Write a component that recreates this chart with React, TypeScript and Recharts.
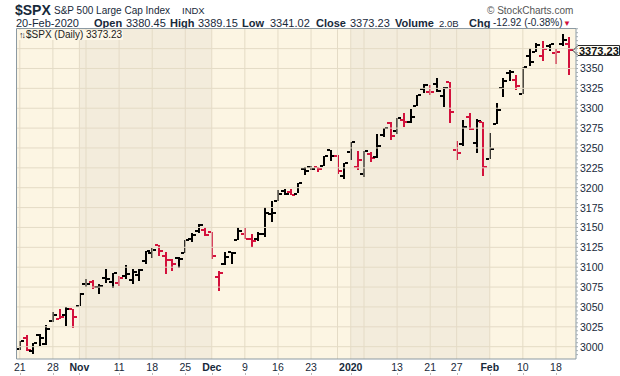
import React from "react";
import { ComposedChart, Bar, XAxis, YAxis, ReferenceArea, ReferenceLine } from "recharts";

const DATES = [
  "Oct 21", "Oct 22", "Oct 23", "Oct 24", "Oct 25", "Oct 28", "Oct 29", "Oct 30", "Oct 31",
  "Nov 1", "Nov 4", "Nov 5", "Nov 6", "Nov 7", "Nov 8", "Nov 11", "Nov 12", "Nov 13", "Nov 14", "Nov 15",
  "Nov 18", "Nov 19", "Nov 20", "Nov 21", "Nov 22", "Nov 25", "Nov 26", "Nov 27", "Nov 29",
  "Dec 2", "Dec 3", "Dec 4", "Dec 5", "Dec 6", "Dec 9", "Dec 10", "Dec 11", "Dec 12", "Dec 13",
  "Dec 16", "Dec 17", "Dec 18", "Dec 19", "Dec 20", "Dec 23", "Dec 24", "Dec 26", "Dec 27", "Dec 30", "Dec 31",
  "Jan 2", "Jan 3", "Jan 6", "Jan 7", "Jan 8", "Jan 9", "Jan 10", "Jan 13", "Jan 14", "Jan 15", "Jan 16", "Jan 17",
  "Jan 21", "Jan 22", "Jan 23", "Jan 24", "Jan 27", "Jan 28", "Jan 29", "Jan 30", "Jan 31",
  "Feb 3", "Feb 4", "Feb 5", "Feb 6", "Feb 7", "Feb 10", "Feb 11", "Feb 12", "Feb 13", "Feb 14",
  "Feb 18", "Feb 19", "Feb 20",
];

const OPEN = [
  2996.5, 3010.7, 2994.0, 3014.8, 3003.3, 3032.1, 3035.4, 3039.7, 3046.9,
  3050.7, 3079.0, 3080.8, 3075.1, 3087.0, 3081.3, 3080.3, 3089.3, 3084.2, 3090.8, 3107.9,
  3117.9, 3127.5, 3114.7, 3108.5, 3111.4, 3117.4, 3134.9, 3145.5, 3147.2,
  3143.9, 3087.4, 3103.5, 3119.2, 3134.6, 3141.9, 3135.4, 3135.8, 3141.2, 3166.7,
  3183.6, 3195.4, 3195.2, 3192.3, 3223.3, 3226.1, 3225.5, 3227.2, 3247.2, 3240.1, 3215.2,
  3244.7, 3226.4, 3217.6, 3241.9, 3238.6, 3266.0, 3281.8, 3271.1, 3285.4, 3282.3, 3303.0, 3323.7,
  3321.0, 3330.0, 3315.8, 3333.1, 3247.2, 3255.4, 3289.5, 3256.5, 3282.3,
  3235.7, 3280.6, 3324.9, 3344.9, 3335.5, 3318.3, 3365.9, 3370.5, 3365.9, 3378.1,
  3369.0, 3380.4, 3380.45,
];

const HIGH = [
  3007.3, 3014.6, 3004.8, 3016.1, 3027.4, 3044.1, 3047.9, 3050.1, 3046.9,
  3067.0, 3085.2, 3084.0, 3078.3, 3097.8, 3093.1, 3088.3, 3102.6, 3098.1, 3098.2, 3120.5,
  3124.2, 3127.6, 3119.0, 3110.1, 3112.9, 3133.8, 3142.7, 3154.3, 3150.3,
  3144.3, 3095.0, 3119.4, 3119.5, 3150.6, 3148.9, 3142.1, 3144.0, 3176.3, 3182.7,
  3197.7, 3198.2, 3198.5, 3205.5, 3225.7, 3227.8, 3226.4, 3240.1, 3247.9, 3240.9, 3231.7,
  3258.1, 3246.2, 3246.8, 3244.9, 3267.1, 3275.6, 3283.0, 3288.1, 3294.3, 3298.7, 3317.1, 3329.9,
  3329.8, 3337.8, 3326.9, 3333.2, 3258.9, 3285.8, 3293.5, 3285.9, 3282.3,
  3268.4, 3306.9, 3337.6, 3348.0, 3341.4, 3352.3, 3375.6, 3381.5, 3385.1, 3380.7,
  3375.0, 3393.5, 3389.15,
];

const LOW = [
  2995.4, 2995.0, 2991.2, 3000.4, 3001.9, 3032.1, 3034.8, 3026.0, 3023.2,
  3050.7, 3074.9, 3072.2, 3065.9, 3080.2, 3073.6, 3075.8, 3084.7, 3078.8, 3083.3, 3104.6,
  3112.1, 3113.5, 3091.4, 3094.6, 3099.3, 3117.4, 3131.0, 3143.4, 3139.3,
  3110.8, 3070.3, 3102.5, 3103.8, 3134.6, 3135.5, 3126.1, 3133.2, 3138.5, 3156.5,
  3183.6, 3191.0, 3191.1, 3192.3, 3216.0, 3222.3, 3220.5, 3227.2, 3234.4, 3216.6, 3212.0,
  3235.5, 3222.3, 3214.6, 3232.4, 3236.7, 3263.7, 3260.9, 3268.4, 3277.2, 3280.7, 3302.8, 3318.9,
  3316.6, 3320.0, 3301.9, 3281.5, 3234.5, 3253.2, 3271.9, 3242.8, 3214.7,
  3235.7, 3280.6, 3313.8, 3334.4, 3322.1, 3317.8, 3352.7, 3369.7, 3360.5, 3372.1,
  3355.6, 3378.8, 3341.02,
];

const CLOSE = [
  3006.7, 2996.0, 3004.5, 3010.3, 3022.6, 3039.4, 3036.9, 3046.8, 3037.6,
  3066.9, 3078.3, 3074.6, 3076.8, 3085.2, 3093.1, 3087.0, 3091.8, 3094.0, 3096.6, 3120.5,
  3122.0, 3120.2, 3108.5, 3103.5, 3110.3, 3133.6, 3140.5, 3153.6, 3141.0,
  3113.9, 3093.2, 3112.8, 3117.4, 3145.9, 3136.0, 3132.5, 3141.6, 3168.6, 3168.8,
  3191.5, 3192.5, 3191.1, 3205.4, 3221.2, 3224.0, 3223.4, 3239.9, 3240.0, 3221.3, 3230.8,
  3257.9, 3234.9, 3246.3, 3237.2, 3253.1, 3274.7, 3265.4, 3288.1, 3283.2, 3289.3, 3316.8, 3329.6,
  3320.8, 3321.8, 3325.5, 3295.5, 3243.6, 3276.2, 3273.4, 3283.7, 3225.5,
  3248.9, 3297.6, 3334.7, 3345.8, 3327.7, 3352.1, 3357.8, 3379.5, 3373.9, 3380.2,
  3370.3, 3386.2, 3373.23,
];

const PRIOR_CLOSE = 2986.2;
const LAST_CLOSE = 3373.23;

const Y_TICKS = [3000, 3025, 3050, 3075, 3100, 3125, 3150, 3175, 3200, 3225, 3250, 3275, 3300, 3325, 3350, 3375];
const Y_LABELS = [3000, 3025, 3050, 3075, 3100, 3125, 3150, 3175, 3200, 3225, 3250, 3275, 3300, 3325, 3350];
// small marks every 5 points along the price axis
const Y_MINOR = Array.from({ length: 83 }, (_, k) => 2990 + k * 5);

const TICK_DATES = ["Oct 21", "Oct 28", "Nov 1", "Nov 11", "Nov 18", "Nov 25", "Dec 2", "Dec 9", "Dec 16", "Dec 23", "Jan 2", "Jan 13", "Jan 21", "Jan 27", "Feb 3", "Feb 10", "Feb 18"];
const TICK_LABELS = ["21", "28", "Nov", "11", "18", "25", "Dec", "9", "16", "23", "2020", "13", "21", "27", "Feb", "10", "18"];
const MONTH_LABELS = ["Nov", "Dec", "2020", "Feb"];
const GRID_DATES = ["Oct 21", "Oct 28", "Nov 1", "Nov 4", "Nov 11", "Nov 18", "Nov 25", "Dec 2", "Dec 9", "Dec 16", "Dec 23", "Dec 30", "Jan 2", "Jan 6", "Jan 13", "Jan 21", "Jan 27", "Feb 3", "Feb 10", "Feb 18"];
// darker shaded months: [first day, first day of next month]
const DARK_MONTHS = [["Nov 1", "Dec 2"], ["Jan 2", "Feb 3"]];

const RED = "#d3113c";
const TEXT = "#17293a";
const AXIS = "#8c9aa3";
const GRID = "#e4dbc6";
const LIGHT_BG = "#fcf5e3";
const DARK_BG = "#f3ecdc";

const rows = DATES.map((date, i) => ({
  date,
  i,
  open: OPEN[i],
  high: HIGH[i],
  low: LOW[i],
  close: CLOSE[i],
  up: CLOSE[i] >= (i === 0 ? PRIOR_CLOSE : CLOSE[i - 1]),
}));

const idx = (d: string) => DATES.indexOf(d);

function OhlcBar(props: any) {
  const { x, y, width, height, payload } = props;
  if (!payload) return null;
  const top = height >= 0 ? y : y + height;
  const h = Math.abs(height);
  const span = payload.high - payload.low || 1;
  const toY = (v: number) => top + ((payload.high - v) / span) * h;
  const cx = Math.round(x + width / 2);
  const yo = Math.round(toY(payload.open));
  const yc = Math.round(toY(payload.close));
  return (
    <g fill={payload.up ? "#000" : RED} shapeRendering="crispEdges">
      <rect x={cx - 1} y={Math.round(top)} width={2} height={Math.max(Math.round(h), 2)} />
      <rect x={cx - 4} y={yo - 1} width={3} height={2} />
      <rect x={cx + 1} y={yc - 1} width={3} height={2} />
    </g>
  );
}

function DateTick(props: any) {
  const { x, y, payload } = props;
  const label = TICK_LABELS[TICK_DATES.indexOf(payload.value)] ?? "";
  const bold = MONTH_LABELS.includes(label);
  return (
    <g>
      <text x={x} y={y + 12} textAnchor="middle" fontSize={10.5} fontWeight={bold ? 700 : 400} fill={TEXT}>
        {label}
      </text>
      <rect x={Math.round(x)} y={y + 14} width={1} height={2} fill="#b8b8b8" />
    </g>
  );
}

function PriceTick(props: any) {
  const { x, y, payload } = props;
  const v = payload.value;
  if (!Y_LABELS.includes(v)) return <g />;
  return (
    <text x={x} y={y + 4} textAnchor="start" fontSize={10.5} fill={TEXT}>
      {v}
    </text>
  );
}

function PriceTag(props: any) {
  const vb = props.viewBox || { x: 16, y: 52, width: 560 };
  const yy = Math.round(vb.y) + 0.5;
  const x0 = vb.x + vb.width - 3;
  const pts = `${x0},${yy} ${x0 + 5},${yy - 5} 619.5,${yy - 5} 619.5,${yy + 5} ${x0 + 5},${yy + 5}`;
  return (
    <g>
      <polygon points={pts} fill="#fffdf4" stroke="#2a2a2a" strokeWidth={1} />
      <text x={x0 + 6} y={yy + 4} fontSize={11} fontWeight={700} fill="#111">
        {LAST_CLOSE.toFixed(2)}
      </text>
    </g>
  );
}

const hdr: React.CSSProperties = { position: "absolute", whiteSpace: "nowrap", color: TEXT, lineHeight: 1 };

export default function App() {
  return (
    <div
      style={{
        position: "absolute",
        left: 0,
        top: 0,
        width: 620,
        height: 376,
        background: "#fff",
        fontFamily: "'Liberation Sans', Arial, sans-serif",
        overflow: "hidden",
      }}
    >
      <span style={{ ...hdr, left: 15, top: 3, fontSize: 14, lineHeight: "14px", fontWeight: 700 }}>$SPX</span>
      <span style={{ ...hdr, left: 54, top: 6, fontSize: 10 }}>S&amp;P 500 Large Cap Index</span>
      <span style={{ ...hdr, left: 182, top: 6, fontSize: 9.5 }}>INDX</span>
      <span style={{ ...hdr, left: 487, top: 6, fontSize: 10, color: "#555" }}>© StockCharts.com</span>

      <span style={{ ...hdr, left: 16, top: 18, fontSize: 11 }}>20-Feb-2020</span>
      <span style={{ ...hdr, left: 94, top: 18, fontSize: 11, fontWeight: 700 }}>Open</span>
      <span style={{ ...hdr, left: 126, top: 18, fontSize: 11 }}>3380.45</span>
      <span style={{ ...hdr, left: 170, top: 18, fontSize: 11, fontWeight: 700 }}>High</span>
      <span style={{ ...hdr, left: 198, top: 18, fontSize: 11 }}>3389.15</span>
      <span style={{ ...hdr, left: 242, top: 18, fontSize: 11, fontWeight: 700 }}>Low</span>
      <span style={{ ...hdr, left: 270, top: 18, fontSize: 11 }}>3341.02</span>
      <span style={{ ...hdr, left: 316, top: 18, fontSize: 11, fontWeight: 700 }}>Close</span>
      <span style={{ ...hdr, left: 350, top: 18, fontSize: 11 }}>3373.23</span>
      <span style={{ ...hdr, left: 395, top: 18, fontSize: 11, fontWeight: 700 }}>Volume</span>
      <span style={{ ...hdr, left: 439, top: 19, fontSize: 9.5 }}>2.0B</span>
      <span style={{ ...hdr, left: 469, top: 18, fontSize: 11, fontWeight: 700 }}>Chg</span>
      <span style={{ ...hdr, left: 493, top: 18, fontSize: 10 }}>-12.92 (-0.38%)</span>
      <span style={{ ...hdr, left: 563, top: 20, fontSize: 8, color: RED }}>▼</span>

      <div style={{ position: "absolute", left: 0, top: 0 }}>
        <ComposedChart
          width={620}
          height={376}
          data={rows}
          margin={{ top: 28.5, right: 0, bottom: 0, left: 16.5 }}
          barCategoryGap={0}
        >
          <XAxis
            xAxisId="cat"
            dataKey="date"
            type="category"
            ticks={TICK_DATES}
            interval={0}
            tick={<DateTick />}
            tickSize={0}
            tickMargin={0}
            height={17}
            padding={{ left: 0, right: 3.5 }}
            axisLine={{ stroke: AXIS }}
          />
          <XAxis
            xAxisId="num"
            dataKey="i"
            type="number"
            domain={[-0.5, DATES.length - 0.5]}
            padding={{ left: 0, right: 3.5 }}
            allowDataOverflow
            hide
          />
          <YAxis
            orientation="right"
            domain={[2984.5, 3400.3]}
            ticks={Y_MINOR}
            interval={0}
            allowDataOverflow
            width={44}
            tick={<PriceTick />}
            tickSize={2}
            tickMargin={2}
            tickLine={{ stroke: "#a3adb3" }}
            axisLine={{ stroke: AXIS }}
          />

          <ReferenceArea xAxisId="num" x1={-0.5} x2={DATES.length} fill={LIGHT_BG} fillOpacity={1} stroke="none" ifOverflow="hidden" />
          {DARK_MONTHS.map(([a, b]) => (
            <ReferenceArea key={a} xAxisId="num" x1={idx(a)} x2={idx(b)} fill={DARK_BG} fillOpacity={1} stroke="none" />
          ))}
          {Y_TICKS.map((v) => (
            <ReferenceLine key={v} xAxisId="num" y={v} stroke={GRID} strokeWidth={1} />
          ))}
          {GRID_DATES.map((d) => (
            <ReferenceLine key={d} xAxisId="num" x={idx(d)} stroke={GRID} strokeWidth={1} />
          ))}
          <ReferenceLine xAxisId="num" x={-0.5} stroke={AXIS} />
          <ReferenceLine xAxisId="num" y={3400.3} stroke={AXIS} />

          <Bar
            xAxisId="cat"
            dataKey={(d: any) => [d.low, d.high]}
            shape={<OhlcBar />}
            isAnimationActive={false}
          />

          <ReferenceLine xAxisId="num" y={LAST_CLOSE} stroke="none" label={<PriceTag />} />
        </ComposedChart>
      </div>

      <div
        style={{
          position: "absolute",
          left: 18,
          top: 30,
          fontSize: 10,
          lineHeight: "10px",
          color: "#222",
          background: "#fdf7e8",
          padding: "0 1px",
          whiteSpace: "nowrap",
        }}
      >
        <span style={{ fontSize: 9, letterSpacing: -2, marginRight: 2 }}>↑↓</span>$SPX (Daily) 3373.23
      </div>
    </div>
  );
}
